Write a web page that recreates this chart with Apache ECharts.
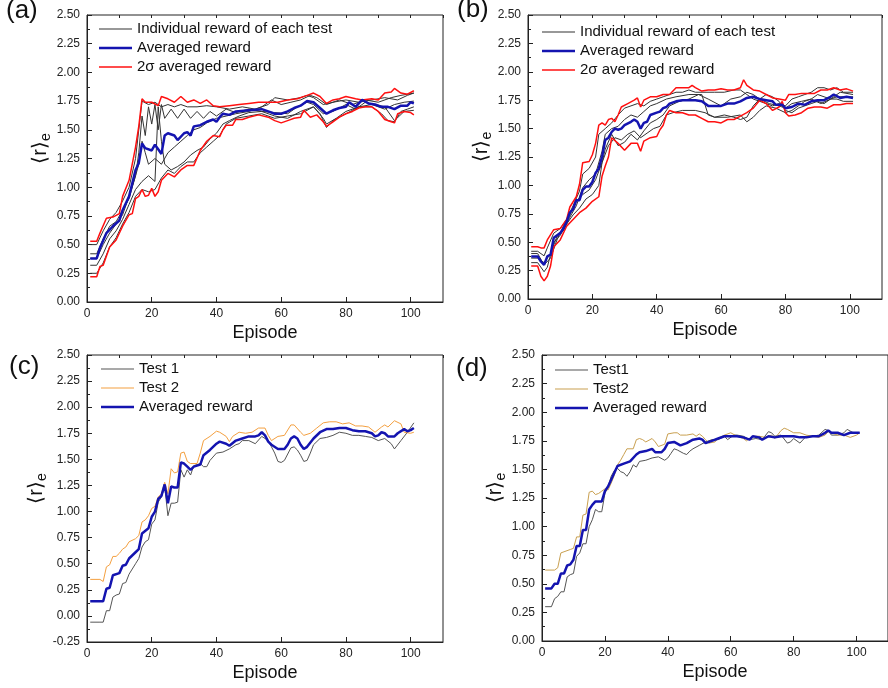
<!DOCTYPE html>
<html>
<head>
<meta charset="utf-8">
<title>reward curves</title>
<script src="https://cdn.jsdelivr.net/npm/echarts@6/dist/echarts.min.js"></script>
<style>
    html, body { margin: 0; padding: 0; background: #fff; }
    #main { width: 888px; height: 688px; }
</style>
</head>
<body>
<div id="main"></div>
<script>
// values, [episode, reward]
var aTest1 = [[1,0.50],[3,0.50],[5,0.62],[7,0.72],[9,0.78],[11,0.88],[13,1.00],[15,1.25],[16,1.50],[17,1.75],[19,1.72],[21,1.74],[23,1.70],[25,1.72],[27,1.70],[29,1.72],[31,1.70],[34,1.70],[37,1.71],[40,1.70],[44,1.68],[48,1.70],[52,1.68],[56,1.72],[58,1.78],[62,1.76],[66,1.78],[68,1.80],[70,1.78],[73,1.72],[76,1.74],[80,1.76],[84,1.74],[88,1.76],[92,1.78],[96,1.76],[99,1.80],[101,1.82]];
var aTest2 = [[1,0.42],[3,0.42],[5,0.55],[7,0.66],[9,0.70],[11,0.80],[13,0.90],[15,1.10],[16,1.30],[17,1.62],[18,1.45],[19,1.70],[20,1.55],[21,1.72],[22,1.50],[23,1.72],[24,1.60],[26,1.68],[28,1.60],[30,1.68],[32,1.60],[34,1.66],[36,1.60],[38,1.66],[40,1.62],[43,1.68],[46,1.65],[50,1.68],[54,1.66],[58,1.65],[62,1.64],[65,1.70],[68,1.74],[70,1.72],[73,1.64],[76,1.66],[80,1.72],[83,1.68],[86,1.74],[89,1.72],[92,1.70],[95,1.58],[98,1.66],[101,1.67]];
var aTest3 = [[1,0.32],[3,0.32],[5,0.42],[7,0.55],[9,0.62],[11,0.72],[13,0.85],[15,0.98],[17,1.05],[19,1.10],[21,1.05],[22,1.70],[23,1.40],[24,1.20],[26,1.15],[28,1.18],[30,1.22],[32,1.28],[34,1.32],[36,1.35],[38,1.42],[40,1.47],[42,1.55],[44,1.58],[47,1.62],[50,1.65],[54,1.66],[58,1.62],[62,1.60],[66,1.66],[70,1.70],[73,1.60],[74,1.55],[77,1.60],[80,1.66],[84,1.70],[88,1.72],[92,1.68],[95,1.72],[98,1.74],[101,1.75]];
var aTest4 = [[1,0.25],[3,0.25],[5,0.34],[7,0.48],[9,0.56],[11,0.68],[13,0.78],[15,0.92],[17,0.98],[19,0.96],[21,0.98],[23,1.08],[25,1.15],[27,1.12],[29,1.18],[31,1.22],[33,1.22],[35,1.30],[37,1.35],[39,1.40],[41,1.45],[43,1.55],[46,1.60],[50,1.62],[54,1.64],[58,1.60],[62,1.62],[66,1.64],[70,1.70],[72,1.64],[74,1.52],[76,1.58],[80,1.64],[84,1.70],[88,1.70],[91,1.64],[93,1.58],[95,1.57],[97,1.66],[99,1.68],[101,1.70]];
var aTest5 = [[1,0.38],[3,0.38],[5,0.50],[7,0.60],[9,0.68],[11,0.76],[13,0.92],[15,1.10],[16,1.20],[17,1.40],[18,1.30],[19,1.20],[21,1.25],[23,1.20],[25,1.30],[27,1.35],[29,1.40],[31,1.45],[33,1.50],[35,1.52],[37,1.56],[40,1.60],[43,1.62],[46,1.64],[50,1.66],[54,1.70],[57,1.76],[60,1.72],[63,1.74],[66,1.76],[69,1.80],[71,1.78],[74,1.72],[78,1.76],[82,1.72],[86,1.76],[90,1.74],[94,1.78],[97,1.80],[101,1.82]];
var aUp = [[1,0.53],[3,0.53],[4,0.60],[6,0.73],[8,0.74],[10,0.77],[11,0.92],[13,1.06],[15,1.35],[16,1.53],[17,1.77],[18,1.74],[20,1.74],[22,1.71],[23,1.79],[25,1.77],[27,1.74],[29,1.79],[31,1.74],[33,1.76],[35,1.73],[37,1.76],[39,1.71],[41,1.70],[44,1.71],[47,1.72],[50,1.73],[53,1.74],[56,1.74],[59,1.74],[62,1.76],[65,1.77],[68,1.80],[70,1.82],[72,1.79],[74,1.73],[76,1.76],[78,1.77],[80,1.79],[83,1.77],[85,1.76],[88,1.77],[90,1.76],[92,1.82],[94,1.83],[95,1.86],[97,1.82],[99,1.81],[101,1.84]];
var aLow = [[1,0.22],[3,0.22],[4,0.31],[5,0.32],[7,0.48],[9,0.54],[11,0.66],[13,0.76],[14,0.77],[15,0.90],[16,0.92],[17,0.98],[18,0.92],[19,0.93],[20,0.99],[21,0.92],[22,0.96],[23,1.06],[25,1.12],[27,1.09],[29,1.15],[31,1.19],[33,1.19],[35,1.32],[37,1.40],[39,1.45],[41,1.44],[42,1.50],[43,1.54],[45,1.54],[46,1.59],[48,1.59],[50,1.61],[53,1.63],[56,1.61],[58,1.58],[60,1.56],[62,1.58],[64,1.60],[66,1.61],[67,1.67],[69,1.61],[71,1.63],[73,1.57],[74,1.53],[76,1.57],[78,1.61],[80,1.64],[82,1.66],[84,1.69],[86,1.70],[88,1.70],[90,1.66],[92,1.59],[94,1.57],[95,1.56],[96,1.64],[98,1.66],[100,1.65],[101,1.63]];
var aAvg = [[1,0.38],[3,0.38],[4,0.47],[6,0.60],[8,0.66],[10,0.71],[11,0.80],[13,0.92],[15,1.15],[16,1.21],[17,1.38],[18,1.34],[20,1.32],[21,1.37],[22,1.33],[23,1.29],[24,1.45],[25,1.47],[27,1.45],[28,1.41],[30,1.47],[31,1.48],[32,1.45],[33,1.53],[35,1.54],[37,1.57],[39,1.59],[40,1.57],[41,1.61],[42,1.64],[44,1.63],[46,1.66],[50,1.67],[54,1.68],[56,1.66],[58,1.64],[60,1.64],[62,1.66],[64,1.69],[66,1.71],[68,1.75],[70,1.74],[72,1.69],[74,1.64],[76,1.67],[78,1.69],[80,1.70],[81,1.74],[83,1.70],[85,1.76],[87,1.73],[89,1.72],[91,1.70],[93,1.70],[95,1.68],[97,1.71],[99,1.71],[100,1.74],[101,1.73]];

var bTest1 = [[1,0.42],[3,0.42],[5,0.38],[6,0.45],[8,0.58],[10,0.62],[12,0.70],[14,0.82],[16,0.95],[17,1.10],[19,1.15],[21,1.25],[22,1.45],[24,1.50],[26,1.55],[28,1.62],[30,1.68],[32,1.70],[34,1.72],[36,1.70],[38,1.74],[40,1.76],[42,1.78],[44,1.80],[46,1.82],[48,1.82],[50,1.84],[52,1.82],[55,1.82],[58,1.82],[61,1.82],[64,1.84],[66,1.84],[68,1.80],[70,1.76],[72,1.74],[74,1.72],[76,1.70],[78,1.72],[80,1.70],[82,1.76],[84,1.78],[86,1.80],[88,1.82],[90,1.86],[92,1.86],[94,1.84],[96,1.86],[98,1.82],[101,1.82]];
var bTest2 = [[1,0.36],[3,0.36],[5,0.32],[7,0.40],[9,0.55],[11,0.60],[13,0.72],[15,0.82],[17,0.98],[19,1.05],[21,1.10],[23,1.30],[24,1.45],[26,1.50],[28,1.52],[30,1.58],[32,1.62],[34,1.60],[36,1.65],[38,1.70],[40,1.72],[43,1.76],[46,1.78],[50,1.80],[54,1.80],[56,1.62],[58,1.60],[61,1.62],[64,1.60],[66,1.58],[68,1.60],[70,1.70],[72,1.76],[74,1.80],[76,1.78],[78,1.74],[80,1.66],[82,1.64],[84,1.68],[86,1.70],[88,1.72],[90,1.74],[92,1.72],[94,1.76],[96,1.78],[98,1.78],[101,1.78]];
var bTest3 = [[1,0.32],[3,0.32],[5,0.24],[6,0.28],[8,0.50],[10,0.56],[12,0.66],[14,0.74],[16,0.80],[18,0.88],[20,0.92],[22,1.00],[23,1.20],[25,1.35],[27,1.42],[29,1.40],[31,1.45],[33,1.48],[35,1.42],[37,1.46],[39,1.50],[41,1.52],[43,1.62],[45,1.64],[48,1.66],[52,1.66],[55,1.64],[58,1.60],[62,1.60],[66,1.62],[68,1.56],[70,1.60],[72,1.66],[74,1.70],[77,1.68],[80,1.64],[82,1.66],[84,1.70],[86,1.74],[88,1.76],[90,1.80],[92,1.78],[94,1.76],[96,1.76],[98,1.74],[101,1.74]];
var bTest4 = [[1,0.40],[3,0.40],[5,0.30],[7,0.36],[9,0.52],[11,0.64],[13,0.74],[15,0.86],[17,0.92],[19,0.96],[21,1.05],[23,1.20],[24,1.32],[26,1.45],[28,1.35],[30,1.38],[32,1.45],[34,1.40],[36,1.48],[38,1.55],[40,1.58],[42,1.62],[44,1.70],[47,1.74],[50,1.76],[53,1.80],[56,1.76],[60,1.70],[63,1.76],[66,1.78],[68,1.82],[70,1.80],[72,1.76],[75,1.72],[78,1.70],[80,1.68],[82,1.72],[85,1.74],[88,1.76],[91,1.72],[94,1.76],[97,1.82],[101,1.80]];
var bUp = [[1,0.46],[3,0.46],[4,0.45],[5,0.45],[6,0.52],[8,0.61],[10,0.62],[12,0.70],[13,0.81],[15,0.90],[16,1.01],[17,1.20],[19,1.21],[20,1.27],[21,1.37],[22,1.53],[23,1.55],[24,1.53],[25,1.58],[26,1.59],[27,1.56],[28,1.62],[29,1.69],[31,1.72],[33,1.75],[34,1.77],[35,1.69],[36,1.75],[38,1.78],[40,1.78],[42,1.80],[44,1.80],[46,1.86],[48,1.86],[50,1.86],[51,1.88],[52,1.86],[54,1.83],[56,1.84],[58,1.84],[60,1.85],[62,1.84],[64,1.84],[66,1.86],[67,1.93],[68,1.88],[70,1.84],[72,1.83],[74,1.80],[76,1.77],[78,1.76],[80,1.75],[81,1.80],[83,1.80],[85,1.81],[87,1.81],[89,1.81],[91,1.84],[93,1.84],[95,1.86],[97,1.84],[99,1.85],[101,1.83]];
var bLow = [[1,0.29],[3,0.29],[4,0.20],[5,0.16],[6,0.20],[7,0.29],[8,0.46],[10,0.52],[12,0.64],[14,0.70],[16,0.76],[18,0.80],[20,0.86],[22,0.90],[23,1.08],[24,1.17],[25,1.25],[26,1.42],[28,1.37],[30,1.31],[32,1.37],[34,1.37],[35,1.30],[36,1.39],[38,1.42],[40,1.43],[41,1.49],[42,1.53],[43,1.62],[44,1.66],[46,1.64],[48,1.64],[50,1.62],[52,1.62],[54,1.59],[56,1.56],[58,1.56],[60,1.55],[62,1.58],[64,1.58],[66,1.61],[68,1.64],[70,1.68],[72,1.75],[74,1.72],[76,1.66],[78,1.69],[79,1.74],[80,1.64],[81,1.61],[83,1.62],[85,1.64],[87,1.68],[89,1.69],[91,1.69],[93,1.68],[95,1.71],[97,1.71],[99,1.72],[101,1.72]];
var bAvg = [[1,0.375],[3,0.375],[4,0.33],[5,0.30],[6,0.375],[7,0.39],[8,0.54],[10,0.58],[11,0.62],[12,0.68],[13,0.76],[14,0.79],[15,0.87],[16,0.87],[17,0.96],[18,0.99],[19,0.99],[20,1.03],[21,1.11],[22,1.15],[23,1.25],[24,1.40],[25,1.42],[26,1.47],[27,1.50],[28,1.49],[29,1.50],[30,1.53],[32,1.56],[33,1.58],[34,1.56],[35,1.50],[36,1.55],[37,1.56],[38,1.62],[40,1.64],[41,1.65],[42,1.68],[43,1.69],[44,1.72],[46,1.74],[48,1.75],[50,1.75],[52,1.75],[54,1.74],[56,1.70],[58,1.70],[60,1.70],[62,1.72],[64,1.72],[66,1.74],[68,1.77],[70,1.78],[72,1.76],[74,1.75],[76,1.74],[77,1.71],[79,1.71],[80,1.68],[82,1.69],[84,1.72],[86,1.71],[88,1.74],[90,1.75],[92,1.75],[94,1.78],[95,1.80],[97,1.77],[99,1.78],[101,1.77]];

var cTest1 = [[1,-0.06],[4,-0.06],[5,-0.06],[6,0.05],[7,0.05],[8,0.18],[9,0.20],[10,0.21],[11,0.31],[12,0.32],[13,0.40],[15,0.50],[16,0.55],[17,0.66],[18,0.71],[19,0.73],[20,0.88],[21,0.92],[22,1.09],[23,1.14],[24,1.24],[25,0.96],[26,1.08],[27,1.08],[28,1.09],[29,1.40],[30,1.33],[31,1.40],[32,1.35],[33,1.44],[35,1.46],[36,1.43],[37,1.43],[38,1.49],[40,1.56],[42,1.57],[44,1.60],[46,1.64],[47,1.65],[48,1.68],[50,1.68],[52,1.65],[54,1.72],[56,1.68],[57,1.62],[58,1.56],[59,1.48],[60,1.47],[61,1.49],[63,1.61],[64,1.62],[65,1.59],[66,1.54],[67,1.48],[68,1.49],[69,1.56],[70,1.64],[72,1.70],[74,1.71],[76,1.73],[78,1.76],[80,1.75],[82,1.73],[84,1.73],[86,1.72],[88,1.71],[90,1.68],[92,1.70],[94,1.65],[95,1.60],[97,1.68],[99,1.76],[101,1.85]];
var cTest2 = [[1,0.35],[4,0.35],[5,0.33],[6,0.47],[7,0.49],[8,0.57],[9,0.57],[10,0.60],[11,0.64],[12,0.66],[13,0.71],[15,0.74],[16,0.77],[17,0.90],[18,0.92],[19,0.96],[20,1.03],[21,1.05],[22,1.14],[23,1.17],[24,1.28],[25,1.17],[26,1.41],[27,1.37],[28,1.38],[29,1.56],[30,1.57],[31,1.48],[32,1.46],[34,1.46],[35,1.56],[36,1.68],[38,1.72],[40,1.77],[41,1.76],[43,1.72],[44,1.67],[45,1.72],[47,1.76],[49,1.75],[51,1.76],[53,1.80],[55,1.80],[56,1.73],[57,1.68],[59,1.72],[61,1.73],[63,1.83],[64,1.83],[66,1.76],[67,1.73],[69,1.75],[71,1.80],[73,1.85],[75,1.86],[77,1.86],[79,1.84],[81,1.85],[83,1.82],[85,1.82],[87,1.81],[89,1.76],[91,1.81],[92,1.83],[93,1.81],[95,1.87],[97,1.84],[98,1.76],[100,1.75],[101,1.76]];
var cAvg = [[1,0.14],[5,0.14],[6,0.26],[7,0.27],[8,0.39],[10,0.41],[11,0.48],[12,0.49],[13,0.55],[15,0.61],[16,0.64],[17,0.79],[19,0.84],[20,0.95],[21,1.00],[22,1.12],[23,1.15],[24,1.26],[25,1.08],[26,1.24],[27,1.23],[28,1.23],[29,1.47],[30,1.46],[31,1.43],[32,1.40],[33,1.43],[35,1.45],[36,1.54],[38,1.59],[40,1.65],[41,1.67],[43,1.65],[44,1.63],[46,1.68],[48,1.70],[50,1.72],[52,1.72],[53,1.73],[54,1.76],[55,1.73],[56,1.67],[57,1.64],[59,1.60],[61,1.60],[62,1.64],[63,1.70],[64,1.72],[65,1.70],[66,1.64],[67,1.60],[68,1.62],[70,1.70],[72,1.76],[74,1.79],[76,1.79],[78,1.80],[80,1.80],[82,1.78],[84,1.77],[86,1.77],[88,1.75],[89,1.72],[90,1.73],[91,1.76],[92,1.75],[93,1.72],[95,1.72],[96,1.75],[98,1.79],[99,1.77],[100,1.78],[101,1.80]];

var dTest1 = [[1,0.30],[3,0.30],[4,0.37],[5,0.39],[6,0.43],[7,0.43],[8,0.56],[9,0.58],[10,0.59],[11,0.74],[12,0.77],[13,0.85],[14,0.85],[15,1.00],[16,1.06],[17,1.15],[18,1.13],[19,1.13],[20,1.29],[21,1.35],[22,1.44],[23,1.49],[24,1.51],[25,1.48],[26,1.47],[27,1.44],[28,1.48],[29,1.54],[30,1.52],[31,1.57],[33,1.58],[35,1.60],[37,1.61],[39,1.58],[40,1.60],[41,1.64],[42,1.68],[43,1.67],[45,1.64],[46,1.63],[47,1.66],[48,1.68],[50,1.71],[52,1.74],[54,1.76],[56,1.76],[58,1.79],[59,1.76],[61,1.80],[62,1.80],[64,1.79],[66,1.76],[68,1.77],[70,1.76],[72,1.83],[73,1.82],[74,1.79],[76,1.80],[78,1.73],[79,1.74],[80,1.77],[82,1.73],[84,1.79],[86,1.79],[88,1.80],[90,1.85],[91,1.84],[92,1.80],[94,1.80],[96,1.82],[97,1.85],[99,1.82],[101,1.82]];
var dTest2 = [[1,0.62],[4,0.62],[5,0.64],[6,0.77],[7,0.78],[9,0.80],[10,0.81],[11,0.91],[12,0.91],[13,1.10],[14,1.11],[15,1.30],[16,1.31],[17,1.28],[18,1.29],[19,1.31],[20,1.33],[21,1.32],[22,1.38],[23,1.45],[24,1.54],[25,1.58],[26,1.63],[27,1.68],[29,1.68],[30,1.76],[31,1.77],[32,1.76],[33,1.74],[35,1.77],[36,1.74],[37,1.70],[39,1.72],[40,1.81],[42,1.82],[43,1.82],[44,1.80],[46,1.80],[48,1.81],[49,1.79],[50,1.81],[51,1.79],[52,1.76],[53,1.73],[55,1.74],[56,1.77],[58,1.80],[60,1.82],[62,1.79],[64,1.77],[65,1.75],[67,1.79],[69,1.79],[71,1.78],[73,1.80],[74,1.77],[76,1.84],[77,1.86],[78,1.85],[80,1.82],[82,1.82],[84,1.80],[86,1.79],[88,1.78],[90,1.80],[91,1.83],[92,1.82],[94,1.80],[96,1.80],[98,1.78],[100,1.80],[101,1.82]];
var dAvg = [[1,0.46],[3,0.46],[4,0.50],[5,0.50],[6,0.59],[7,0.59],[8,0.66],[9,0.67],[10,0.71],[11,0.83],[12,0.83],[13,0.97],[14,0.97],[15,1.15],[16,1.19],[17,1.22],[18,1.22],[19,1.22],[20,1.31],[21,1.35],[22,1.41],[23,1.47],[24,1.53],[26,1.55],[28,1.57],[30,1.63],[31,1.65],[33,1.66],[35,1.68],[36,1.65],[38,1.65],[39,1.68],[40,1.73],[42,1.74],[44,1.71],[46,1.73],[48,1.76],[50,1.77],[51,1.76],[52,1.73],[54,1.75],[56,1.77],[58,1.79],[60,1.79],[62,1.79],[64,1.78],[66,1.76],[67,1.79],[69,1.78],[70,1.76],[72,1.79],[74,1.78],[76,1.79],[78,1.79],[80,1.79],[82,1.78],[84,1.78],[86,1.79],[88,1.79],[90,1.82],[91,1.84],[92,1.82],[94,1.82],[96,1.80],[98,1.82],[100,1.82],[101,1.82]];

var panelTags = ['(a)', '(b)', '(c)', '(d)'];
var xName = 'Episode';
var yName = '{m|⟨r⟩}{s|e}';

(function(){
    var FONT = 'Arial, "Liberation Sans", sans-serif';
    var BLUE = '#1414b0', RED = '#ff1010', GRAY = '#333333';

    // legend swatch: plain horizontal bar of given thickness inside a 33x10 box
    function bar(t){
        var y0 = (5 - t / 2).toFixed(2), y1 = (5 + t / 2).toFixed(2);
        return 'path://M0,0 M33,10 M0,' + y0 + ' L33,' + y0 + ' L33,' + y1 + ' L0,' + y1 + ' Z';
    }

    var page = {
        $chart: null,

        init: function(){
            this.$chart = echarts.init(document.getElementById('main'), null, {renderer: 'canvas'});
            this.$chart.setOption(this.buildOption());
        },

        line: function(name, data, color, width, idx){
            return {
                type: 'line', name: name, data: data,
                xAxisIndex: idx * 2, yAxisIndex: idx,
                symbol: 'none', animation: false, silent: true,
                lineStyle: {color: color, width: width},
                itemStyle: {color: color}
            };
        },

        buildOption: function(){
            // grid boxes: left, top, width, height
            var boxes = [
                [87, 15, 356, 287],
                [528, 15, 354, 284],
                [87, 355, 356, 287],
                [542, 355, 356, 286]
            ];
            var yMins = [0, 0, -0.25, 0];
            var tagPos = [[6, 12], [457, 11], [9, 368], [456, 370]];
            var legendPos = [[99, 20], [542, 23], [101, 360], [555, 361]];
            var grids = [], xAxes = [], yAxes = [], legends = [], graphics = [];

            for (var i = 0; i < 4; i++) {
                var b = boxes[i];
                grids.push({left: b[0], top: b[1], width: b[2], height: b[3],
                    show: true, borderColor: '#222', borderWidth: 1, containLabel: false});
                // major x ticks + labels
                xAxes.push({
                    type: 'value', gridIndex: i, min: 0, max: 110, interval: 20,
                    name: xName, nameLocation: 'middle', nameGap: 22,
                    nameTextStyle: {fontFamily: FONT, fontSize: 18, color: '#111'},
                    axisLine: {onZero: false, lineStyle: {color: '#222', width: 1}},
                    axisTick: {inside: true, length: 5, lineStyle: {color: '#222'}},
                    axisLabel: {fontFamily: FONT, fontSize: 12, color: '#222', margin: 6, showMaxLabel: false},
                    splitLine: {show: false}
                });
                // minor x ticks every 10
                xAxes.push({
                    type: 'value', gridIndex: i, min: 0, max: 110, interval: 10,
                    axisLine: {show: false, onZero: false},
                    axisTick: {inside: true, length: 3, lineStyle: {color: '#222'}},
                    axisLabel: {show: false}, splitLine: {show: false}
                });
                yAxes.push({
                    type: 'value', gridIndex: i, min: yMins[i], max: 2.5, interval: 0.25,
                    name: yName, nameLocation: 'middle', nameGap: 34,
                    nameTextStyle: {fontFamily: FONT, color: '#111',
                        rich: {
                            m: {fontFamily: FONT, fontSize: 20, color: '#111', padding: [0, 0, 0, 20]},
                            s: {fontFamily: FONT, fontSize: 14, color: '#111', padding: [10, 0, 0, 0]}
                        }},
                    axisLine: {onZero: false, lineStyle: {color: '#222', width: 1}},
                    axisTick: {inside: true, length: 5, lineStyle: {color: '#222'}},
                    minorTick: {show: true, splitNumber: 2, length: 3, lineStyle: {color: '#222'}},
                    axisLabel: {fontFamily: FONT, fontSize: 12, color: '#222', margin: 7,
                        formatter: function(v){ return v.toFixed(2); }},
                    splitLine: {show: false}
                });
                graphics.push({
                    type: 'text', left: tagPos[i][0], top: tagPos[i][1] - 14,
                    style: {text: panelTags[i], font: '26px ' + FONT, fill: '#111'}
                });
            }

            var IND = 'Individual reward of each test', AVG = 'Averaged reward', SIG = '2σ averaged reward';
            var legendItems = [
                [{name: IND, icon: bar(1)}, {name: AVG, icon: bar(2.5)}, {name: SIG, icon: bar(1.5)}],
                [{name: IND, icon: bar(1)}, {name: AVG, icon: bar(2.5)}, {name: SIG, icon: bar(1.5)}],
                [{name: 'Test 1', icon: bar(1)}, {name: 'Test 2', icon: bar(1)}, {name: AVG, icon: bar(2.5)}],
                [{name: 'Test1', icon: bar(1)}, {name: 'Test2', icon: bar(1)}, {name: AVG, icon: bar(2.5)}]
            ];
            for (var k = 0; k < 4; k++) {
                legends.push({
                    orient: 'vertical', left: legendPos[k][0], top: legendPos[k][1],
                    data: legendItems[k], itemWidth: 33, itemHeight: 10, itemGap: 1,
                    selectedMode: false, padding: 0,
                    textStyle: {fontFamily: FONT, fontSize: 15, color: '#111', lineHeight: 18}
                });
            }

            var series = [];
            [aTest1, aTest2, aTest3, aTest4, aTest5].forEach(function(d){
                series.push(page.line(IND, d, GRAY, 1, 0));
            });
            series.push(page.line(SIG, aUp, RED, 1.5, 0));
            series.push(page.line(SIG, aLow, RED, 1.5, 0));
            series.push(page.line(AVG, aAvg, BLUE, 2.5, 0));

            [bTest1, bTest2, bTest3, bTest4].forEach(function(d){
                series.push(page.line(IND, d, GRAY, 1, 1));
            });
            series.push(page.line(SIG, bUp, RED, 1.5, 1));
            series.push(page.line(SIG, bLow, RED, 1.5, 1));
            series.push(page.line(AVG, bAvg, BLUE, 2.5, 1));

            series.push(page.line('Test 1', cTest1, '#555555', 1, 2));
            series.push(page.line('Test 2', cTest2, '#f4a040', 1, 2));
            series.push(page.line(AVG, cAvg, BLUE, 2.5, 2));

            series.push(page.line('Test1', dTest1, '#555555', 1, 3));
            series.push(page.line('Test2', dTest2, '#c9a050', 1, 3));
            series.push(page.line(AVG, dAvg, BLUE, 2.5, 3));

            return {
                backgroundColor: '#ffffff',
                animation: false,
                grid: grids, xAxis: xAxes, yAxis: yAxes,
                legend: legends, graphic: graphics,
                series: series
            };
        }
    };
    page.init();
})();
</script>
</body>
</html>
